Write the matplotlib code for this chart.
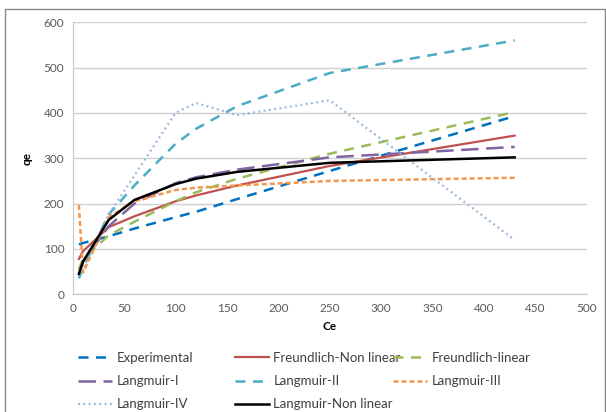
import matplotlib.pyplot as plt
from matplotlib.patches import Rectangle

plt.rcParams['font.family'] = ['Lato', 'DejaVu Sans']

# values
ce = [6, 10, 35, 60, 100, 120, 160, 250, 430]

experimental = [110, 113, 128, 145, 170, 182, 210, 272, 393]
freundlich_nl = [78, 95, 148, 172, 205, 218, 240, 283, 350]
freundlich_lin = [55, 78, 130, 160, 205, 225, 255, 310, 402]
langmuir_1 = [45, 72, 150, 200, 245, 258, 275, 302, 325]
langmuir_2 = [35, 58, 176, 240, 332, 365, 415, 488, 560]
langmuir_3 = [197, 48, 170, 205, 230, 235, 240, 250, 257]
langmuir_4 = [40, 62, 176, 262, 400, 422, 395, 428, 120]
langmuir_nl = [45, 72, 164, 208, 243, 255, 270, 290, 302]

fig = plt.figure(figsize=(6.06, 4.12), dpi=100)
ax = fig.add_axes([0.12, 0.2857, 0.848, 0.6603])

l1, = ax.plot(ce, experimental, color='#0070C0', lw=1.8, dashes=(4, 3), label='Experimental')
l2, = ax.plot(ce, freundlich_nl, color='#C0504D', lw=1.6, label='Freundlich-Non linear')
l3, = ax.plot(ce, freundlich_lin, color='#9BBB59', lw=1.8, dashes=(4, 3), label='Freundlich-linear')
l4, = ax.plot(ce, langmuir_1, color='#8064A2', lw=1.8, dashes=(7, 3), label='Langmuir-I')
l5, = ax.plot(ce, langmuir_2, color='#4BACC6', lw=1.8, dashes=(4, 3), label='Langmuir-II')
l6, = ax.plot(ce, langmuir_3, color='#F79646', lw=1.8, dashes=(2, 1.2), label='Langmuir-III')
l7, = ax.plot(ce, langmuir_4, color='#95B3D7', lw=1.6, dashes=(0.8, 1.6), label='Langmuir-IV')
l8, = ax.plot(ce, langmuir_nl, color='black', lw=1.8, label='Langmuir-Non linear')

ax.set_xlim(0, 500)
ax.set_ylim(0, 600)
ax.set_xticks(range(0, 501, 50))
ax.set_yticks(range(0, 601, 100))
ax.grid(axis='y', color='#d0d0d0', lw=1)
ax.set_axisbelow(True)
for s in ['top', 'right']:
    ax.spines[s].set_visible(False)
for s in ['left', 'bottom']:
    ax.spines[s].set_color('#c8c8c8')
ax.tick_params(length=0, labelsize=8.5, colors='#595959', pad=6)
ax.set_xlabel('Ce', fontsize=8.5, fontweight='bold', labelpad=5)
ax.set_ylabel('qe', fontsize=8.5, fontweight='bold', labelpad=8)

# legend laid out row-wise like Excel, one legend per column
columns = [[l1, l4, l7], [l2, l5, l8], [l3, l6]]
x_starts = [78, 235, 393]
for handles, x0 in zip(columns, x_starts):
    leg = fig.legend(handles=handles, loc='upper left',
                     bbox_to_anchor=(x0 / 606, 1 - 352 / 412),
                     frameon=False, fontsize=9.5, handlelength=2.6,
                     handletextpad=0.3, borderpad=0, borderaxespad=0,
                     labelspacing=0.85)
    for t in leg.get_texts():
        t.set_color('#404040')

fig.patches.append(Rectangle((0.008, -0.1), 0.99, 1.077, transform=fig.transFigure,
                             fill=False, edgecolor='#888888', lw=1))

fig.savefig('out.png', dpi=100)
